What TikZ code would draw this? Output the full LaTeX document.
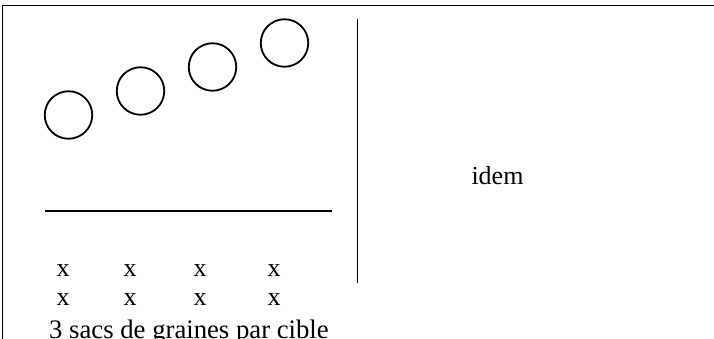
\documentclass[tikz,border=0pt]{standalone}
\usepackage{fontspec}
\setmainfont{Liberation Serif}
\begin{document}
\begin{tikzpicture}[x=1pt,y=-1pt,
  target/.style={circle,draw,line width=1.8pt,minimum size=47.5pt,inner sep=0pt},
  label/.style={inner sep=0pt,anchor=base,font=\fontsize{26}{30}\selectfont},
  frameline/.style={line width=1pt},
  rule/.style={line width=1.8pt}]
\useasboundingbox (0,0) rectangle (714,339);
% frame edges
\draw[frameline] (2.5,339) -- (2.5,6) -- (714,6);
% four targets rising to the right
\node[target] (c1) at (68.5,115) {};
\node[target] (c2) at (140.5,91) {};
\node[target] (c3) at (212.5,67) {};
\node[target] (c4) at (284.5,43) {};
% throwing line and separator
\draw[rule] (45,211) -- (332,211);
\draw[rule] (357.5,19) -- (357.5,282.5);
% seed bags
\foreach \n/\px in {1/63,2/130,3/200,4/274}{
  \node[label] (xa\n) at (\px,276.5) {x};
  \node[label] (xb\n) at (\px,305) {x};
}
\node[label,anchor=base west,font=\fontsize{26.7}{30}\selectfont] (caption) at (49,338) {3 sacs de graines par cible};
\node[label] (idem) at (497.5,184) {idem};
\end{tikzpicture}
\end{document}
